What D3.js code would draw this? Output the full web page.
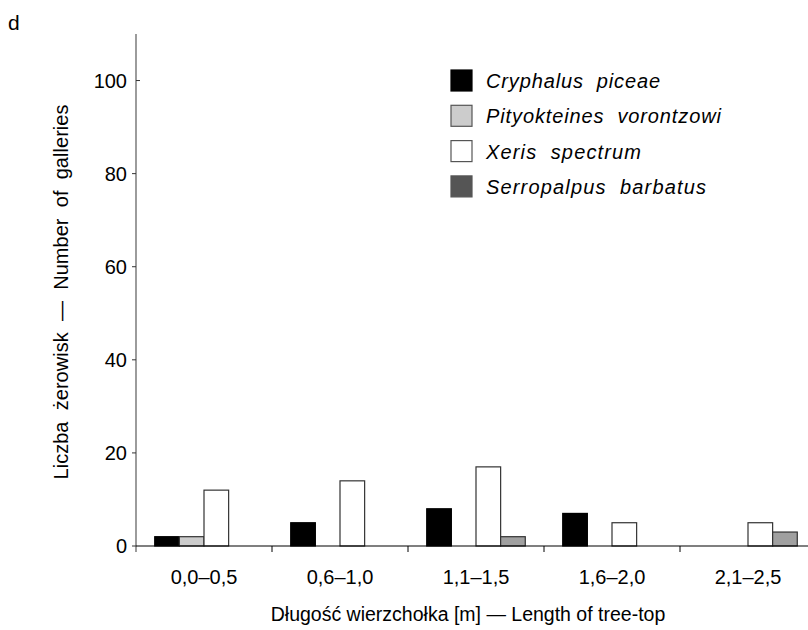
<!DOCTYPE html>
<html>
<head>
<meta charset="utf-8">
<script src="https://cdn.jsdelivr.net/npm/d3@7"></script>
<style>
  body { margin: 0; background: #fff; }
  text { font-family: "Liberation Sans", Arial, sans-serif; }
</style>
</head>
<body>
<div id="chart"></div>
<script>
const CATEGORIES = ["0,0–0,5", "0,6–1,0", "1,1–1,5", "1,6–2,0", "2,1–2,5"];
const SERIES = ["Cryphalus  piceae", "Pityokteines  vorontzowi", "Xeris  spectrum", "Serropalpus  barbatus"];
const CRYPHALUS = [2, 5, 8, 7, 0];
const PITYOKTEINES = [2, 0, 0, 0, 0];
const XERIS = [12, 14, 17, 5, 5];
const SERROPALPUS = [0, 0, 2, 0, 3];
const Y_TICKS = [0, 20, 40, 60, 80, 100];

const VALUES = [CRYPHALUS, PITYOKTEINES, XERIS, SERROPALPUS];
const BAR_FILL = ["#000000", "#cccccc", "#ffffff", "#a0a0a0"];
const BAR_STROKE = ["#000000", "#333333", "#333333", "#333333"];
const LEGEND_FILL = ["#000000", "#cccccc", "#ffffff", "#555555"];
const LEGEND_WIDTHS = [174, 235, 155, 220];

const WIDTH = 808, HEIGHT = 630;

const svg = d3.select("#chart").append("svg")
    .attr("width", WIDTH)
    .attr("height", HEIGHT);

const x0 = d3.scaleBand()
    .domain(CATEGORIES)
    .range([136, 816]);

const x1 = d3.scaleBand()
    .domain(SERIES)
    .range([0, x0.bandwidth()])
    .paddingOuter(0.76);

const y = d3.scaleLinear()
    .domain([0, 110])
    .range([546, 34]);

// bars
const rows = [];
CATEGORIES.forEach((c, i) => {
    SERIES.forEach((s, j) => {
        if (VALUES[j][i] > 0) rows.push({ cat: c, ser: s, idx: j, v: VALUES[j][i] });
    });
});

svg.append("g")
    .selectAll("rect")
    .data(rows)
    .enter()
    .append("rect")
    .attr("x", d => x0(d.cat) + x1(d.ser))
    .attr("y", d => y(d.v))
    .attr("width", x1.bandwidth())
    .attr("height", d => y(0) - y(d.v))
    .attr("fill", d => BAR_FILL[d.idx])
    .attr("stroke", d => BAR_STROKE[d.idx])
    .attr("stroke-width", 1.2);

// y axis
const yAxis = svg.append("g")
    .attr("transform", "translate(136,0)");
yAxis.append("line")
    .attr("x1", 0).attr("x2", 0)
    .attr("y1", y(110)).attr("y2", y(0) + 6)
    .attr("stroke", "#666").attr("stroke-width", 1.3);
yAxis.selectAll(".tick")
    .data(Y_TICKS)
    .enter()
    .append("line")
    .attr("x1", d => d === 100 ? 0 : -4)
    .attr("x2", d => d === 100 ? 4 : 0)
    .attr("y1", d => y(d)).attr("y2", d => y(d))
    .attr("stroke", "#333");
yAxis.selectAll(".lbl")
    .data(Y_TICKS)
    .enter()
    .append("text")
    .attr("x", -9)
    .attr("y", d => y(d))
    .attr("dy", "0.35em")
    .attr("text-anchor", "end")
    .attr("font-size", 20)
    .text(d => d);

// x axis
const xAxis = svg.append("g")
    .attr("transform", "translate(0," + y(0) + ")");
xAxis.append("line")
    .attr("x1", 136).attr("x2", 816)
    .attr("stroke", "#000").attr("stroke-width", 1.2);
xAxis.selectAll(".tick")
    .data(CATEGORIES.slice(1))
    .enter()
    .append("line")
    .attr("x1", d => x0(d)).attr("x2", d => x0(d))
    .attr("y1", 0).attr("y2", 6)
    .attr("stroke", "#000");
xAxis.selectAll(".lbl")
    .data(CATEGORIES)
    .enter()
    .append("text")
    .attr("x", d => x0(d) + x0.bandwidth() / 2)
    .attr("y", 38)
    .attr("text-anchor", "middle")
    .attr("font-size", 20)
    .text(d => d);

// titles
svg.append("text")
    .attr("x", 468)
    .attr("y", 621)
    .attr("text-anchor", "middle")
    .attr("font-size", 19.5)
    .text("Długość wierzchołka [m] — Length of tree-top");

svg.append("text")
    .attr("transform", "translate(68,292) rotate(-90)")
    .attr("text-anchor", "middle")
    .attr("font-size", 20)
    .attr("textLength", 375)
    .attr("lengthAdjust", "spacing")
    .style("white-space", "pre")
    .text("Liczba  żerowisk  —  Number  of  galleries");

svg.append("text")
    .attr("x", 8)
    .attr("y", 30)
    .attr("font-size", 21)
    .text("d");

// legend
const legend = svg.append("g")
    .selectAll("g")
    .data(SERIES)
    .enter()
    .append("g")
    .attr("transform", (d, i) => "translate(451," + (70 + i * 35.3) + ")");
legend.append("rect")
    .attr("width", 21)
    .attr("height", 21)
    .attr("fill", (d, i) => LEGEND_FILL[i])
    .attr("stroke", (d, i) => i === 0 ? "#000" : "#555")
    .attr("stroke-width", 1.2);
legend.append("text")
    .attr("x", 35)
    .attr("y", 11)
    .attr("dy", "0.35em")
    .attr("font-size", 20)
    .attr("font-style", "italic")
    .attr("textLength", (d, i) => LEGEND_WIDTHS[i])
    .attr("lengthAdjust", "spacing")
    .style("white-space", "pre")
    .text(d => d);
</script>
</body>
</html>
